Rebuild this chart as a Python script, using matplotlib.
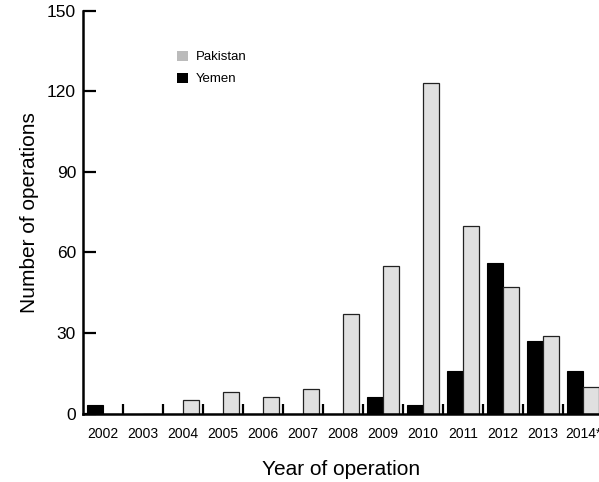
import matplotlib
matplotlib.use("Agg")
import matplotlib.pyplot as plt
import numpy as np
from matplotlib.patches import Patch

plt.rcParams['font.family'] = ['Liberation Sans', 'DejaVu Sans']

years = ['2002', '2003', '2004', '2005', '2006', '2007', '2008',
         '2009', '2010', '2011', '2012', '2013', '2014*']
pakistan = [0, 0, 5, 8, 6, 9, 37, 55, 123, 70, 47, 29, 10]
yemen = [3, 0, 0, 0, 0, 0, 0, 6, 3, 16, 56, 27, 16]

x = np.arange(len(years))
w = 0.4

fig = plt.figure(figsize=(5.99, 4.82), dpi=100)
ax = fig.add_axes([0.1386, 0.142, 0.8614, 0.836])

ax.bar(x - w / 2, yemen, width=w, color='black', edgecolor='black', linewidth=0.8)
ax.bar(x + w / 2, pakistan, width=w, color='#e0e0e0', edgecolor='#222222', linewidth=0.9)

ax.set_xlim(-0.5, 12.4)
ax.set_ylim(0, 150)
ax.set_yticks([0, 30, 60, 90, 120, 150])

# boundary ticks (no labels), year labels at group centres
ax.set_xticks(x[:-1] + 0.5)
ax.set_xticklabels([])
ax.set_xticks(x, minor=True)
ax.set_xticklabels(years, minor=True, fontsize=10)
ax.tick_params(axis='x', which='major', direction='in', length=7, width=1.6)
ax.tick_params(axis='x', which='minor', length=0, pad=10)
ax.tick_params(axis='y', direction='in', length=9, width=1.6, labelsize=12.5, pad=5)

for s in ['top', 'right']:
    ax.spines[s].set_visible(False)
for s in ['left', 'bottom']:
    ax.spines[s].set_linewidth(1.8)

ax.set_ylabel('Number of operations', fontsize=15, labelpad=6)
ax.set_xlabel('Year of operation', fontsize=15, labelpad=13)

handles = [Patch(facecolor='#bbbbbb', edgecolor='none', label='Pakistan'),
           Patch(facecolor='black', edgecolor='none', label='Yemen')]
ax.legend(handles=handles, loc='upper left', bbox_to_anchor=(0.16, 0.93),
          frameon=False, fontsize=9.5, handlelength=0.8, handleheight=0.8,
          handletextpad=0.6, labelspacing=0.7)

fig.savefig('out.png', dpi=100)
